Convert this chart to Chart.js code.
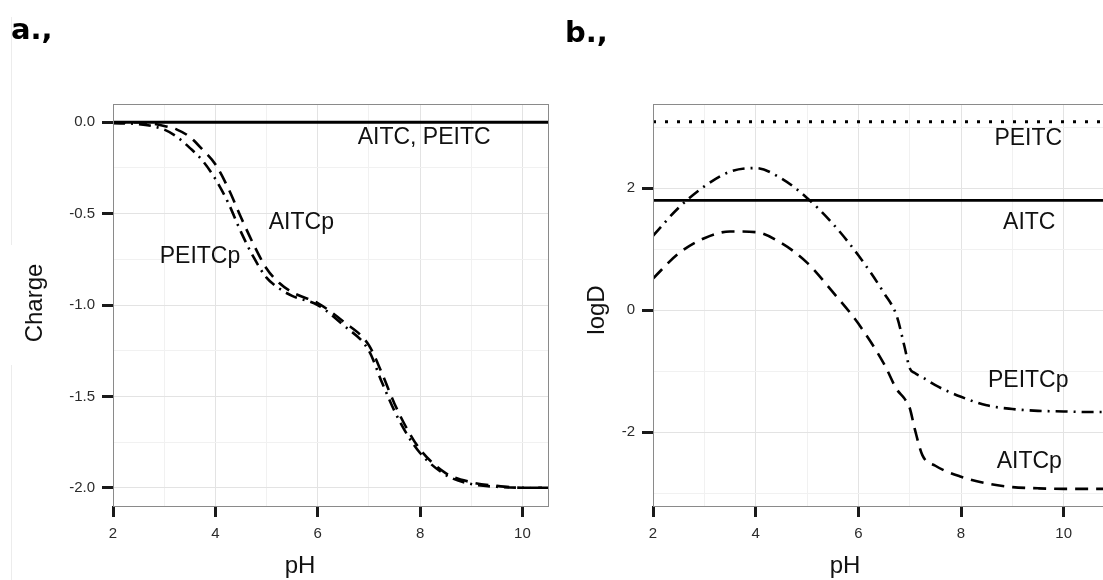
<!DOCTYPE html>
<html lang="en">
<head>
<meta charset="UTF-8">
<title>Charge and logD vs pH</title>
<style>
  html, body { margin: 0; padding: 0; background: #fff; }
  body { width: 1103px; height: 580px; overflow: hidden; position: relative; }
  canvas { position: absolute; top: 0; }
  #chartA { left: 0; }
  #chartB { left: 560px; }
  .edge { position: absolute; left: 11px; width: 0; border-left: 1px solid #ececec; }
</style>
</head>
<body>
<div class="edge" style="top:17px;height:228px"></div>
<div class="edge" style="top:365px;height:215px"></div>
<canvas id="chartA" width="560" height="580"></canvas>
<canvas id="chartB" width="563" height="580"></canvas>

<script src="https://cdn.jsdelivr.net/npm/chart.js"></script>
<script>
// panel a: charge vs pH
const phA = [2, 2.5, 3, 3.25, 3.5, 3.75, 4, 4.25, 4.5, 4.75, 5, 5.25, 5.5, 6, 6.5, 7, 7.25, 7.5, 7.75, 8, 8.5, 9, 9.5, 10, 10.5];
const aitcpCharge = [0, 0, -0.02, -0.04, -0.08, -0.15, -0.23, -0.36, -0.52, -0.67, -0.80, -0.88, -0.93, -0.99, -1.09, -1.22, -1.37, -1.54, -1.68, -1.79, -1.92, -1.97, -1.99, -2.0, -2.0];
const peitcpCharge = [-0.005, -0.01, -0.04, -0.08, -0.14, -0.21, -0.31, -0.44, -0.60, -0.74, -0.85, -0.91, -0.95, -1.0, -1.11, -1.25, -1.42, -1.58, -1.71, -1.81, -1.93, -1.98, -1.995, -2.0, -2.0];
const phParentA = [2, 10.5];
const parentCharge = [0, 0];   // AITC and PEITC are neutral

// panel b: logD vs pH
const phB = [2, 2.5, 3, 3.5, 4, 4.5, 5, 5.5, 6, 6.5, 6.75, 6.9, 7, 7.1, 7.25, 7.5, 8, 8.5, 9, 9.5, 10, 10.5, 11];
const peitcpLogD = [1.22, 1.68, 2.03, 2.27, 2.33, 2.16, 1.84, 1.42, 0.9, 0.28, -0.1, -0.6, -0.95, -1.03, -1.1, -1.23, -1.42, -1.56, -1.62, -1.65, -1.66, -1.67, -1.67];
const aitcpLogD = [0.52, 0.93, 1.18, 1.29, 1.28, 1.1, 0.78, 0.3, -0.22, -0.88, -1.3, -1.45, -1.6, -1.95, -2.38, -2.55, -2.73, -2.84, -2.9, -2.92, -2.93, -2.93, -2.93];
const phParentB = [2, 11];
const aitcLogD = [1.8, 1.8];
const peitcLogD = [3.09, 3.09];

// ticks
const xTicksA = [2, 3, 4, 5, 6, 7, 8, 9, 10];
const xTicksB = [2, 3, 4, 5, 6, 7, 8, 9, 10, 11];
const xLabelled = [2, 4, 6, 8, 10];
const yTicksA = [-2, -1.75, -1.5, -1.25, -1, -0.75, -0.5, -0.25, 0];
const yLabelledA = [-2, -1.5, -1, -0.5, 0];
const yTicksB = [-3, -2, -1, 0, 1, 2, 3];
const yLabelledB = [-2, 0, 2];

// in-plot labels
const labelTextA = ['AITC, PEITC', 'AITCp', 'PEITCp'];
const labelXA = [8.08, 5.68, 3.70];
const labelYA = [-0.082, -0.55, -0.736];
const labelTextB = ['PEITC', 'AITC', 'PEITCp', 'AITCp'];
const labelXB = [9.31, 9.33, 9.31, 9.33];
const labelYB = [2.82, 1.44, -1.15, -2.49];

const SANS = '"Liberation Sans", Arial, sans-serif';
const DASHED = [13, 8];
const DOTDASH = [12, 6, 2, 6];
const DOTTED = [3, 9];

function pts(xs, ys) {
    return xs.map((x, i) => ({ x: x, y: ys[i] }));
}

function line(xs, ys, dash, width) {
    return {
        data: pts(xs, ys),
        borderColor: '#000',
        borderWidth: width || 2.6,
        borderDash: dash || [],
        pointRadius: 0,
        fill: false,
        cubicInterpolationMode: 'monotone'
    };
}

const decor = {
    id: 'decor',
    afterDraw(chart) {
        const o = chart.options.plugins.decor;
        const ctx = chart.ctx;
        const a = chart.chartArea;
        const xs = chart.scales.x, ys = chart.scales.y;
        ctx.save();
        // panel border
        ctx.strokeStyle = '#8a8a8a';
        ctx.lineWidth = 1;
        ctx.strokeRect(a.left + 0.5, a.top + 0.5, a.right - a.left, a.bottom - a.top);
        // in-plot labels
        ctx.fillStyle = '#111';
        ctx.font = '23px ' + SANS;
        ctx.textAlign = 'center';
        ctx.textBaseline = 'middle';
        o.texts.forEach((t, i) => {
            ctx.fillText(t, xs.getPixelForValue(o.tx[i]), ys.getPixelForValue(o.ty[i]));
        });
        // axis titles
        ctx.font = '24px ' + SANS;
        ctx.fillText(o.xTitle, o.xTitlePos[0], o.xTitlePos[1]);
        ctx.save();
        ctx.translate(o.yTitlePos[0], o.yTitlePos[1]);
        ctx.rotate(-Math.PI / 2);
        ctx.fillText(o.yTitle, 0, 0);
        ctx.restore();
        // panel letter
        ctx.font = 'bold 29px "DejaVu Sans", sans-serif';
        ctx.textAlign = 'left';
        ctx.textBaseline = 'alphabetic';
        ctx.fillStyle = '#000';
        ctx.fillText(o.letter, o.letterPos[0], o.letterPos[1]);
        ctx.restore();
    }
};

function makeChart(id, p) {
    return new Chart(document.getElementById(id), {
        type: 'line',
        data: { datasets: p.datasets },
        plugins: [decor],
        options: {
            responsive: false,
            animation: false,
            layout: { padding: { left: 0, top: 104, right: p.rightPad, bottom: 0 } },
            plugins: {
                legend: { display: false },
                tooltip: { enabled: false },
                decor: p.decor
            },
            scales: {
                x: {
                    type: 'linear',
                    min: p.xMin,
                    max: p.xMax,
                    afterBuildTicks: s => { s.ticks = p.xTicks.map(v => ({ value: v })); },
                    afterFit: s => { s.height = 74; },
                    border: { display: false },
                    grid: {
                        color: c => xLabelled.includes(c.tick.value) ? '#e3e3e3' : '#f1f1f1',
                        lineWidth: 1,
                        drawTicks: true,
                        tickLength: 11,
                        tickWidth: 3,
                        tickColor: c => xLabelled.includes(c.tick.value) ? '#1a1a1a' : 'rgba(0,0,0,0)'
                    },
                    ticks: {
                        autoSkip: false,
                        maxRotation: 0,
                        padding: 8,
                        color: '#2b2b2b',
                        font: { family: SANS, size: 15 },
                        callback: v => xLabelled.includes(v) ? String(v) : ''
                    }
                },
                y: {
                    type: 'linear',
                    min: p.yMin,
                    max: p.yMax,
                    afterBuildTicks: s => { s.ticks = p.yTicks.map(v => ({ value: v })); },
                    afterFit: s => { s.width = p.leftWidth; },
                    border: { display: false },
                    grid: {
                        color: c => p.yLabelled.includes(c.tick.value) ? '#e3e3e3' : '#f1f1f1',
                        lineWidth: 1,
                        drawTicks: true,
                        tickLength: 11,
                        tickWidth: 3,
                        tickColor: c => p.yLabelled.includes(c.tick.value) ? '#1a1a1a' : 'rgba(0,0,0,0)'
                    },
                    ticks: {
                        autoSkip: false,
                        padding: 7,
                        color: '#2b2b2b',
                        font: { family: SANS, size: 15 },
                        callback: v => p.yLabelled.includes(v) ? p.fmt(v) : ''
                    }
                }
            }
        }
    });
}

makeChart('chartA', {
    datasets: [
        line(phParentA, parentCharge, [], 3),
        line(phA, aitcpCharge, DASHED),
        line(phA, peitcpCharge, DOTDASH)
    ],
    xMin: 2, xMax: 10.5, yMin: -2.1, yMax: 0.1,
    xTicks: xTicksA, yTicks: yTicksA, yLabelled: yLabelledA,
    fmt: v => v.toFixed(1),
    leftWidth: 113, rightPad: 12,
    decor: {
        texts: labelTextA, tx: labelXA, ty: labelYA,
        xTitle: 'pH', xTitlePos: [300, 566],
        yTitle: 'Charge', yTitlePos: [35, 303],
        letter: 'a.,', letterPos: [11, 39]
    }
});

makeChart('chartB', {
    datasets: [
        line(phParentB, peitcLogD, DOTTED, 3),
        line(phParentB, aitcLogD, [], 2.6),
        line(phB, peitcpLogD, DOTDASH),
        line(phB, aitcpLogD, DASHED)
    ],
    xMin: 2, xMax: 11, yMin: -3.21, yMax: 3.38,
    xTicks: xTicksB, yTicks: yTicksB, yLabelled: yLabelledB,
    fmt: v => String(v),
    leftWidth: 93, rightPad: 1,
    decor: {
        texts: labelTextB, tx: labelXB, ty: labelYB,
        xTitle: 'pH', xTitlePos: [285, 566],
        yTitle: 'logD', yTitlePos: [37, 310],
        letter: 'b.,', letterPos: [5, 42]
    }
});
</script>
</body>
</html>
